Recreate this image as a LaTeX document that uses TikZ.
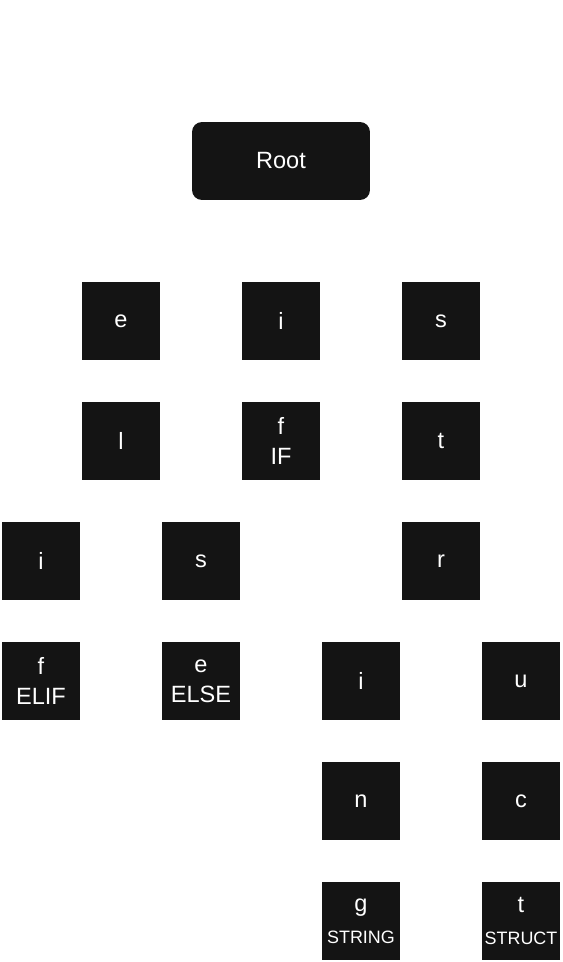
\documentclass[tikz,border=0pt]{standalone}
\usepackage{fontspec}
\setmainfont{Liberation Sans}
\usepackage{xcolor}
\definecolor{boxblack}{HTML}{141414}
\newcommand{\tokfont}{\fontsize{10.2}{12}\selectfont}

\begin{document}
\begin{tikzpicture}[x=0.02cm,y=-0.02cm]

	\tikzstyle{every node}=[fill=boxblack, text=white, inner sep=0pt, align=center,
		font=\fontsize{13.4}{17.2}\selectfont]
	\tikzstyle{letter}=[minimum width=1.56cm, minimum height=1.56cm]
	\tikzstyle{rootbox}=[minimum width=3.56cm, minimum height=1.56cm, rounded corners=0.2cm]

	\useasboundingbox (0,0) rectangle (562,962);

	\node[rootbox] (root) at (281,161) {Root};

	% first letters
	\node[letter] (e) at (121,321) {e};
	\node[letter] (i) at (281,321) {i};
	\node[letter] (s) at (441,321) {s};

	\node[letter] (el) at (121,441) {l};
	\node[letter] (if) at (281,441) {f\\IF};
	\node[letter] (st) at (441,441) {t};

	\node[letter] (eli) at (41,561) {i};
	\node[letter] (els) at (201,561) {s};
	\node[letter] (str) at (441,561) {r};

	\node[letter] (elif) at (41,681) {f\\ELIF};
	\node[letter] (else) at (201,681) {e\\ELSE};
	\node[letter] (stri) at (361,681) {i};
	\node[letter] (stru) at (521,681) {u};

	\node[letter] (strin) at (361,801) {n};
	\node[letter] (struc) at (521,801) {c};

	\node[letter] (string) at (361,921) {g\\[1pt]{\tokfont STRING}};
	\node[letter] (struct) at (521,921) {t\\[1pt]{\tokfont STRUCT}};

\end{tikzpicture}
\end{document}
